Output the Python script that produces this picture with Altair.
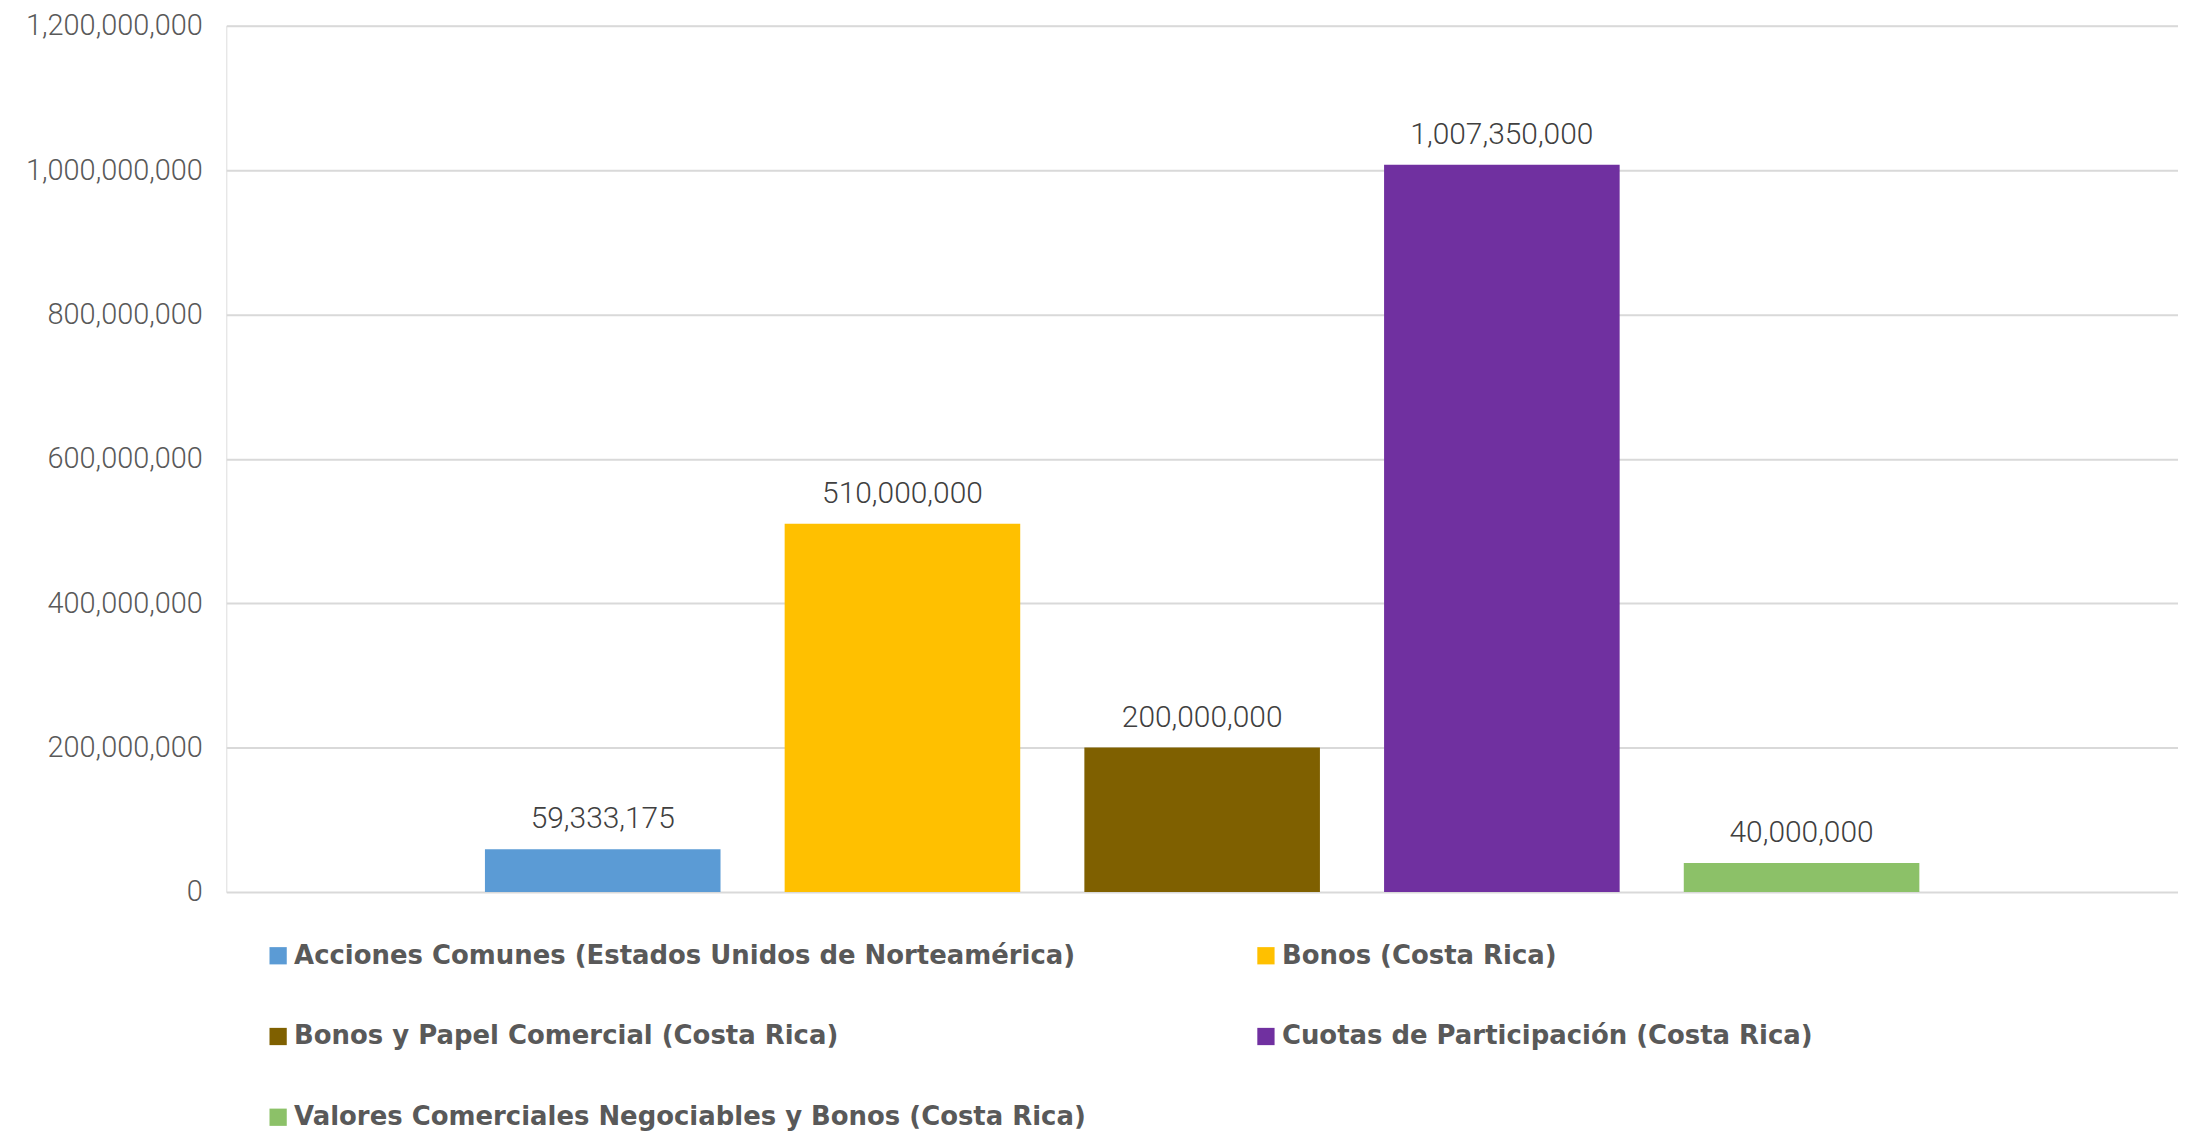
import altair as alt
import pandas as pd

series = [
    "Acciones Comunes (Estados Unidos de Norteamérica)",
    "Bonos (Costa Rica)",
    "Bonos y Papel Comercial (Costa Rica)",
    "Cuotas de Participación (Costa Rica)",
    "Valores Comerciales Negociables y Bonos (Costa Rica)",
]
values = [59333175, 510000000, 200000000, 1007350000, 40000000]
colors = ["#5B9BD5", "#FFC000", "#7F6000", "#7030A0", "#8CC168"]
y_ticks = [0, 200000000, 400000000, 600000000, 800000000, 1000000000, 1200000000]

df = pd.DataFrame({"serie": series, "valor": values})

FONT = "Roboto"
LEGEND_FONT = "DejaVu Sans"

x_enc = alt.X(
    "serie:N",
    sort=series,
    axis=None,
    scale=alt.Scale(paddingInner=0.214, paddingOuter=0.863),
)

bars = alt.Chart(df).mark_bar().encode(
    x=x_enc,
    y=alt.Y(
        "valor:Q",
        scale=alt.Scale(domain=[0, 1200000000], nice=False),
        axis=alt.Axis(
            values=y_ticks,
            format=",d",
            title=None,
            domain=False,
            ticks=False,
            labelPadding=24,
            labelLimit=400,
            labelFont=FONT,
            labelFontSize=29,
            labelFontWeight=300,
            labelColor="#595959",
            gridColor="#D9D9D9",
            gridWidth=2,
        ),
    ),
    color=alt.Color(
        "serie:N",
        sort=series,
        scale=alt.Scale(domain=series, range=colors),
        legend=alt.Legend(
            title=None,
            orient="none",
            direction="horizontal",
            legendX=39,
            legendY=920,
            columns=2,
            columnPadding=167,
            rowPadding=55,
            symbolType="square",
            symbolSize=300,
            symbolStrokeWidth=0,
            labelOffset=3,
            labelFont=LEGEND_FONT,
            labelFontSize=26,
            labelFontWeight="bold",
            labelColor="#595959",
            labelLimit=1000,
            padding=0,
        ),
    ),
)

labels = alt.Chart(df).mark_text(
    baseline="middle",
    dy=-30,
    font=FONT,
    fontSize=30,
    fontWeight=300,
    color="#404040",
).encode(
    x=alt.X("serie:N", sort=series),
    y="valor:Q",
    text=alt.Text("valor:Q", format=",d"),
)

chart = (
    alt.layer(bars, labels)
    .properties(
        width=1958,
        height=869,
        autosize=alt.AutoSizeParams(type="none"),
        padding={"left": 219, "top": 16, "right": 0, "bottom": 241},
    )
    .configure_view(strokeWidth=0)
    .configure(background="white")
)

chart.save("out.html", embed_options={"renderer": "svg", "actions": False})
